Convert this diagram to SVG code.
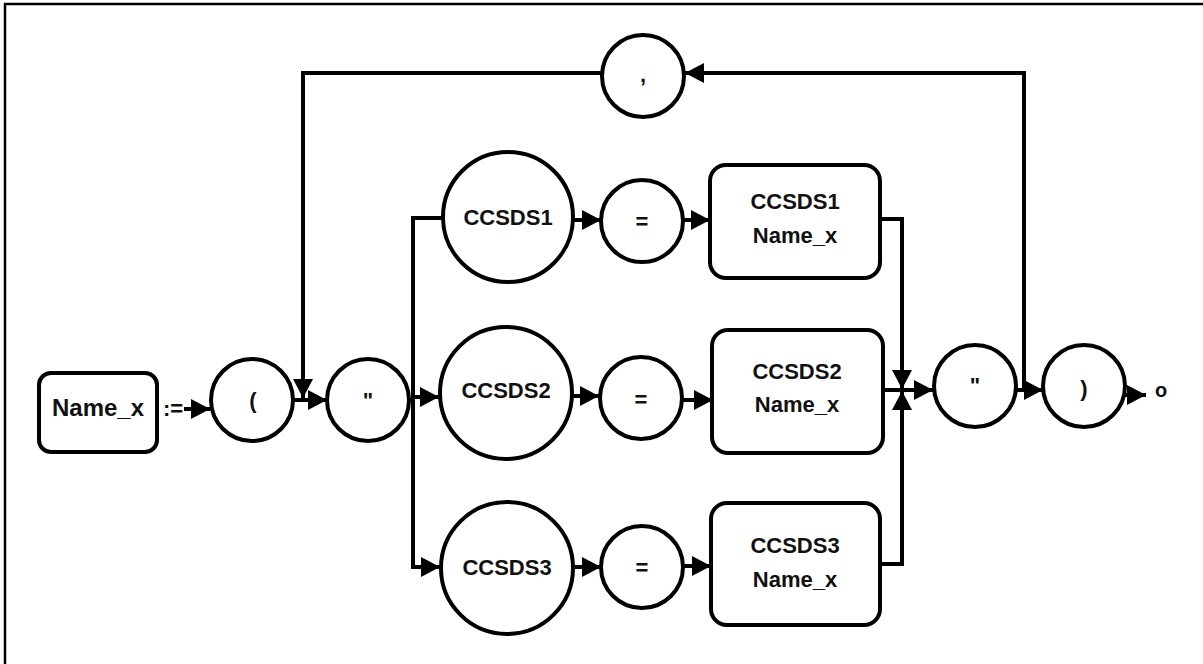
<svg xmlns="http://www.w3.org/2000/svg" width="1203" height="664" viewBox="0 0 1203 664">
<style>
.n{fill:#fff;stroke:#000;stroke-width:4}
.c{fill:none;stroke:#000;stroke-width:4}
.t{font-family:"Liberation Sans",Arial,sans-serif;font-weight:bold;font-size:22px;fill:#111;text-anchor:middle}
</style>
<defs>
<marker id="a" markerUnits="userSpaceOnUse" markerWidth="19" markerHeight="20" refX="19" refY="10" orient="auto">
<path d="M0,0 L19,10 L0,20 z" fill="#000"/>
</marker>
</defs>
<rect x="5" y="4" width="1210" height="680" fill="#fff" stroke="#000" stroke-width="2.5"/>
<g id="connectors">
<path class="c" d="M184,409 L210,409" marker-end="url(#a)"/>
<path class="c" d="M293,400 L327,400" marker-end="url(#a)"/>
<path class="c" d="M1024,390 L1024,73 L685,73" marker-end="url(#a)"/>
<path class="c" d="M602,73 L303,73 L303,398" marker-end="url(#a)"/>
<path class="c" d="M409,400 L413,400"/>
<path class="c" d="M443,218 L413,218 L413,567 L440,567" marker-end="url(#a)"/>
<path class="c" d="M413,397 L439,397" marker-end="url(#a)"/>
<path class="c" d="M573,220 L601,220" marker-end="url(#a)"/>
<path class="c" d="M683,220 L710,220" marker-end="url(#a)"/>
<path class="c" d="M573,396 L599,396" marker-end="url(#a)"/>
<path class="c" d="M682,400 L713,400" marker-end="url(#a)"/>
<path class="c" d="M573,567 L601,567" marker-end="url(#a)"/>
<path class="c" d="M683,566 L711,566" marker-end="url(#a)"/>
<path class="c" d="M880,219 L902,219 L902,389" marker-end="url(#a)"/>
<path class="c" d="M880,564 L902,564 L902,391" marker-end="url(#a)"/>
<path class="c" d="M883,390 L933,390" marker-end="url(#a)"/>
<path class="c" d="M1017,390 L1043,390" marker-end="url(#a)"/>
<path class="c" d="M1125,395 L1146,395" marker-end="url(#a)"/>
</g>
<g id="name_x"><rect class="n" x="39" y="373" width="118" height="79" rx="12"/><text class="t" x="98" y="416" font-size="24" style="font-size:24px">Name_x</text></g>
<text class="t" x="173" y="416">:=</text>
<g id="lparen"><circle class="n" cx="252" cy="400" r="41"/><text class="t" x="253" y="408">(</text></g>
<g id="quote1"><circle class="n" cx="368" cy="400" r="41"/><text class="t" x="368" y="408">"</text></g>
<g id="comma"><circle class="n" cx="643" cy="76" r="41"/><text class="t" x="643" y="82">,</text></g>
<g id="ccsds1"><circle class="n" cx="508" cy="217" r="65"/><text class="t" x="508" y="225">CCSDS1</text></g>
<g id="eq1"><circle class="n" cx="642" cy="221" r="41"/><text class="t" x="642" y="229">=</text></g>
<g id="box1"><rect class="n" x="710" y="165" width="170" height="113" rx="16"/><text class="t" x="795" y="209">CCSDS1</text><text class="t" x="795" y="243">Name_x</text></g>
<g id="ccsds2"><circle class="n" cx="506" cy="393" r="66"/><text class="t" x="506" y="398">CCSDS2</text></g>
<g id="eq2"><circle class="n" cx="641" cy="398" r="41"/><text class="t" x="641" y="407">=</text></g>
<g id="box2"><rect class="n" x="712" y="330" width="171" height="123" rx="16"/><text class="t" x="797" y="379">CCSDS2</text><text class="t" x="797" y="412">Name_x</text></g>
<g id="ccsds3"><circle class="n" cx="507" cy="568" r="66"/><text class="t" x="507" y="575">CCSDS3</text></g>
<g id="eq3"><circle class="n" cx="642" cy="567" r="41"/><text class="t" x="642" y="575">=</text></g>
<g id="box3"><rect class="n" x="711" y="503" width="169" height="122" rx="16"/><text class="t" x="795" y="553">CCSDS3</text><text class="t" x="795" y="587">Name_x</text></g>
<g id="quote2"><circle class="n" cx="975" cy="386" r="41"/><text class="t" x="975" y="393">"</text></g>
<g id="rparen"><circle class="n" cx="1084" cy="386" r="41"/><text class="t" x="1084" y="396">)</text></g>
<text class="t" x="1161" y="397" style="font-size:20px">o</text>
</svg>
